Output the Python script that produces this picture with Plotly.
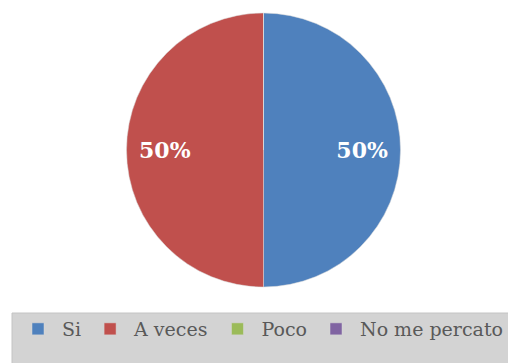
import plotly.graph_objects as go

labels = ["Si", "A veces", "Poco", "No me percato"]
values = [50, 50, 0, 0]
colors = ["#4F81BD", "#C0504D", "#9BBB59", "#8064A2"]

total = sum(values)
texts = [f"{round(v / total * 100)}%" if v > 0 else "" for v in values]

W, H = 508, 363
OFF = 8  # page body margin


def fx(px):
    return (px - OFF) / W


def fy(py):
    return 1 - (py - OFF) / H


dom = dict(x=[fx(126), fx(401)], y=[fy(287), fy(13)])

fig = go.Figure()
fig.add_trace(go.Pie(
    labels=labels,
    values=values,
    textinfo="none",
    marker=dict(colors=colors, line=dict(color="#D9D9D9", width=0.5)),
    sort=False,
    direction="clockwise",
    rotation=0,
    domain=dom,
    showlegend=True,
    hoverinfo="label+percent",
))
# transparent ring carrying the percentage labels further out
fig.add_trace(go.Pie(
    labels=labels,
    values=values,
    text=texts,
    textinfo="text",
    textposition="inside",
    insidetextorientation="horizontal",
    textfont=dict(family="DejaVu Serif", size=22, color="white", weight="bold"),
    marker=dict(colors=["rgba(0,0,0,0)"] * len(values), line=dict(width=0)),
    sort=False,
    direction="clockwise",
    rotation=0,
    hole=0.44,
    domain=dom,
    showlegend=False,
    hoverinfo="skip",
))

fig.add_shape(type="rect", xref="paper", yref="paper",
              x0=fx(12), x1=1.02, y0=-0.02, y1=fy(313),
              fillcolor="#D3D3D3", line=dict(color="#C4C4C4", width=1), layer="below")

fig.update_layout(
    width=W, height=H,
    margin=dict(l=0, r=0, t=0, b=0, autoexpand=False),
    paper_bgcolor="white",
    plot_bgcolor="white",
    legend=dict(orientation="h", x=fx(14), xanchor="left", y=fy(310), yanchor="top",
                bgcolor="rgba(0,0,0,0)", font=dict(family="DejaVu Serif", size=19, color="#595959"),
                itemwidth=38, itemclick=False, tracegroupgap=0),
)

fig.write_html("out.html")
